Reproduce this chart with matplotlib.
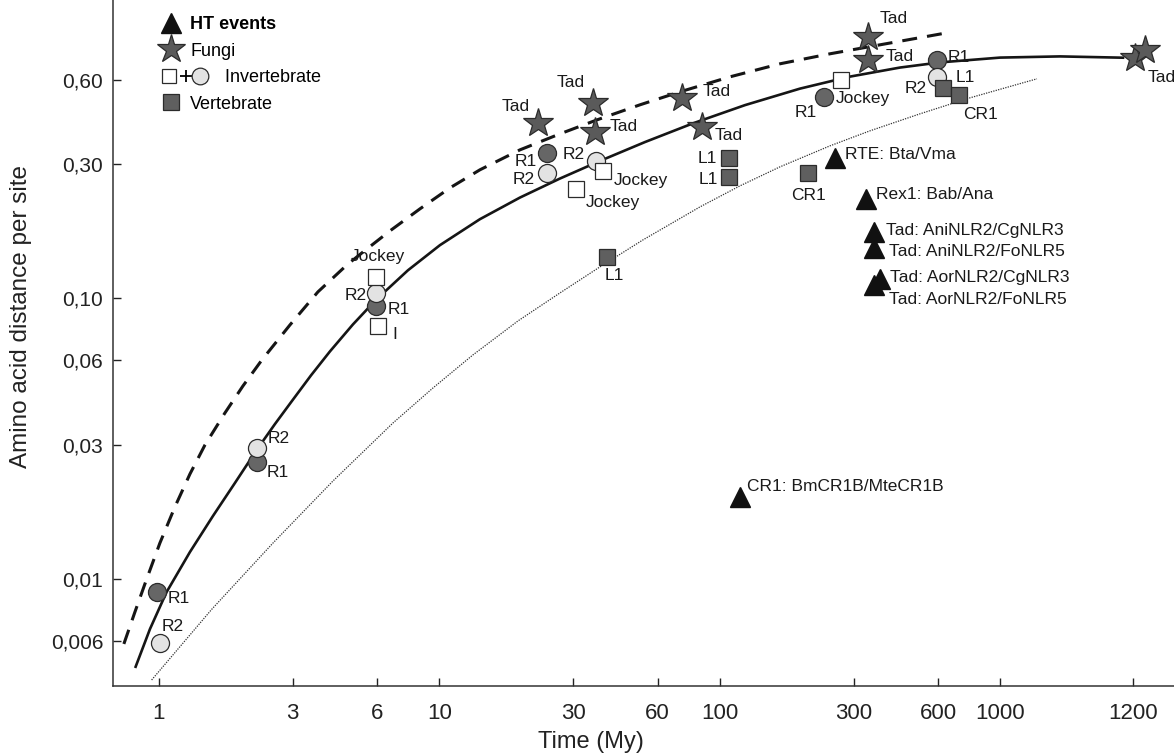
import matplotlib
matplotlib.use("Agg")
import matplotlib.pyplot as plt
from matplotlib.lines import Line2D
from matplotlib.legend_handler import HandlerBase
from matplotlib.ticker import NullLocator

plt.rcParams['font.family'] = ['Liberation Sans', 'DejaVu Sans']

# --- curves ---
solid_x = [0.826, 0.929, 1.065, 1.290, 1.558, 1.866, 2.230, 2.592, 2.980, 3.483, 4.070, 4.916,
           5.937, 7.720, 10.04, 13.94, 19.36, 26.89, 37.35, 54.02, 80.12, 122.8, 192.8, 290.7,
           438.2, 608.5, 995.9, 1630, 2734]
solid_y = [0.00486, 0.00662, 0.00897, 0.01246, 0.01674, 0.02195, 0.02877, 0.03561, 0.04302,
           0.05305, 0.06460, 0.08063, 0.0986, 0.1257, 0.1545, 0.1912, 0.2283, 0.2669, 0.3084,
           0.3600, 0.4198, 0.4875, 0.5581, 0.6160, 0.6635, 0.6922, 0.7200, 0.7271, 0.7194]

dash_x = [0.750, 0.821, 0.899, 1.008, 1.140, 1.290, 1.459, 1.719, 1.993, 2.329, 2.932, 3.688,
          4.679, 5.292, 6.661, 8.520, 10.90, 13.94, 19.36, 26.89, 36.44, 51.85, 72.02, 108.6,
          163.7, 246.7, 371.9, 644.8]
dash_y = [0.00586, 0.00761, 0.00982, 0.01341, 0.01803, 0.02363, 0.02998, 0.03899, 0.04866,
          0.06025, 0.0803, 0.1053, 0.1314, 0.1450, 0.1737, 0.2081, 0.2472, 0.2867, 0.3377,
          0.3851, 0.4319, 0.4887, 0.5437, 0.6149, 0.6843, 0.7428, 0.7996, 0.8824]

dot_x = [0.942, 1.545, 2.550, 4.172, 6.828, 9.482, 13.16, 19.05, 26.89, 37.35, 53.14, 84.87,
         117.8, 163.7, 246.7, 342.6, 516.5, 778.6, 1349]
dot_y = [0.00436, 0.00780, 0.01341, 0.02231, 0.03591, 0.04787, 0.06277, 0.08297, 0.1044, 0.1293,
         0.1613, 0.2115, 0.2513, 0.2938, 0.3490, 0.3948, 0.4539, 0.5176, 0.6049]

# --- HT events ---
ht_x = [257, 331.6, 354, 354, 372, 354, 117.8]
ht_y = [0.316, 0.226, 0.172, 0.151, 0.117, 0.1115, 0.0196]
ht_labels = ["RTE: Bta/Vma", "Rex1: Bab/Ana", "Tad: AniNLR2/CgNLR3", "Tad: AniNLR2/FoNLR5",
             "Tad: AorNLR2/CgNLR3", "Tad: AorNLR2/FoNLR5", "CR1: BmCR1B/MteCR1B"]

# --- Fungi (the last two sit on the "1200" tick of the drawn axis) ---
star_x = [22.4, 35.3, 35.8, 73.2, 86.3, 337, 337, 3017, 3275]
star_y = [0.4216, 0.497, 0.392, 0.518, 0.408, 0.854, 0.707, 0.719, 0.767]
star_labels = ["Tad"] * 8 + [""]

# --- Invertebrate ---
r1_x = [0.981, 2.23, 5.94, 24.1, 235.4, 592.3]
r1_y = [0.00899, 0.0261, 0.0939, 0.329, 0.519, 0.707]
r1_labels = ["R1"] * 6

r2_x = [1.008, 2.23, 5.94, 24.1, 36.1, 592.3]
r2_y = [0.00592, 0.0292, 0.1047, 0.280, 0.309, 0.613]
r2_labels = ["R2"] * 6

open_sq_x = [5.94, 6.04, 30.6, 38.4, 269.3]
open_sq_y = [0.119, 0.0796, 0.2446, 0.283, 0.597]
open_sq_labels = ["Jockey", "I", "Jockey", "Jockey", "Jockey"]

# --- Vertebrate ---
vert_x = [39.5, 108, 108, 206.5, 625.6, 712.9]
vert_y = [0.1406, 0.315, 0.270, 0.279, 0.560, 0.530]
vert_labels = ["L1", "L1", "L1", "CR1", "L1", "CR1"]

# axis ticks
x_ticks = [1, 3, 6, 10, 30, 60, 100, 300, 600, 1000, 2970]
x_tick_labels = ["1", "3", "6", "10", "30", "60", "100", "300", "600", "1000", "1200"]
y_ticks = [0.006, 0.01, 0.03, 0.06, 0.10, 0.30, 0.60]
y_tick_labels = ["0,006", "0,01", "0,03", "0,06", "0,10", "0,30", "0,60"]

# label offsets in pixels (dx, dy, ha)
ht_offsets = [(10, 3, 'left'), (10, 4, 'left'), (12, 2, 'left'), (15, -4, 'left'),
              (10, 2, 'left'), (15, -15, 'left'), (7, 10, 'left')]
star_offsets = [(-8, 16, 'right'), (-8, 20, 'right'), (15, 5, 'left'), (21, 6, 'left'),
                (13, -9, 'left'), (12, 18, 'left'), (18, 3, 'left'), (13, -20, 'left'), (0, 0, 'left')]
r1_offsets = [(11, -7, 'left'), (10, -11, 'left'), (12, -4, 'left'), (-10, -8, 'right'),
              (-7, -15, 'right'), (11, 2, 'left')]
r2_offsets = [(2, 16, 'left'), (11, 10, 'left'), (-9, -3, 'right'), (-12, -7, 'right'),
              (-11, 6, 'right'), (-10, -11, 'right')]
open_sq_offsets = [(2, 20, 'center'), (14, -9, 'left'), (10, -13, 'left'), (10, -9, 'left'),
                   (-5, -18, 'left')]
vert_offsets = [(8, -19, 'center'), (-12, 0, 'right'), (-11, -2, 'right'), (0, -22, 'center'),
                (12, 11, 'left'), (4, -20, 'left')]

EDGE = '#2b2b2b'
DARK = '#666666'
LIGHT = '#e3e3e3'
STAR = '#5a5a5a'


def label_points(ax, xs, ys, labels, offsets):
    for x, y, lab, (dx, dy, ha) in zip(xs, ys, labels, offsets):
        if lab:
            ax.annotate(lab, (x, y), xytext=(dx, dy), textcoords='offset pixels',
                        ha=ha, va='center', fontsize=12.5, color='#1a1a1a', zorder=5)


class InvertebrateHandler(HandlerBase):
    # open square + light circle, as in the original key
    def create_artists(self, legend, orig_handle, xdescent, ydescent, width, height, fontsize, trans):
        y = height / 2 - ydescent
        x0 = width / 2 - xdescent
        sq = Line2D([x0 - 1], [y], marker='s', ms=10.5, mfc='white', mec=EDGE, mew=0.9, ls='none',
                    transform=trans)
        plus = Line2D([x0 + 10.8], [y], marker='+', ms=8, mec='k', mew=1.3, ls='none', transform=trans)
        circ = Line2D([x0 + 21.5], [y], marker='o', ms=12, mfc=LIGHT, mec=EDGE, mew=0.9, ls='none',
                      transform=trans)
        return [sq, plus, circ]


fig = plt.figure(figsize=(11.74, 7.56), dpi=100)
ax = fig.add_axes([113 / 1174, 70 / 756, 1061 / 1174, 686 / 756])
ax.set_xscale('log')
ax.set_yscale('log')

ax.plot(solid_x, solid_y, color='#151515', lw=1.9, zorder=2, solid_joinstyle='round')
ax.plot(dash_x, dash_y, color='#151515', lw=2.2, dashes=(4.9, 3.3), zorder=2)
ax.plot(dot_x, dot_y, color='#333333', lw=0.9, ls=(0, (1, 1)), zorder=2)

ax.plot(ht_x, ht_y, ls='none', marker='^', ms=15, mfc='#111111', mec='#111111', zorder=4)
ax.plot(star_x, star_y, ls='none', marker='*', ms=22, mfc=STAR, mec=EDGE, mew=0.9, zorder=4)
ax.plot(r1_x, r1_y, ls='none', marker='o', ms=13, mfc=DARK, mec=EDGE, mew=0.9, zorder=4)
ax.plot(r2_x, r2_y, ls='none', marker='o', ms=13, mfc=LIGHT, mec=EDGE, mew=0.9, zorder=4)
ax.plot(open_sq_x, open_sq_y, ls='none', marker='s', ms=11.5, mfc='white', mec=EDGE, mew=0.9, zorder=4)
ax.plot(vert_x, vert_y, ls='none', marker='s', ms=11.5, mfc='#5f5f5f', mec=EDGE, mew=0.9, zorder=4)

label_points(ax, ht_x, ht_y, ht_labels, ht_offsets)
label_points(ax, star_x, star_y, star_labels, star_offsets)
label_points(ax, r1_x, r1_y, r1_labels, r1_offsets)
label_points(ax, r2_x, r2_y, r2_labels, r2_offsets)
label_points(ax, open_sq_x, open_sq_y, open_sq_labels, open_sq_offsets)
label_points(ax, vert_x, vert_y, vert_labels, vert_offsets)

ax.set_xlim(0.686, 4155)
ax.set_ylim(0.00415, 1.155)

ax.set_xticks(x_ticks, x_tick_labels)
ax.set_yticks(y_ticks, y_tick_labels)
ax.xaxis.set_minor_locator(NullLocator())
ax.yaxis.set_minor_locator(NullLocator())
ax.tick_params(axis='x', direction='in', length=6, width=1, pad=12, labelsize=16, colors='#222222')
ax.tick_params(axis='y', direction='in', length=6, width=1, pad=7, labelsize=15, colors='#222222')

for side in ['top', 'right']:
    ax.spines[side].set_visible(False)
for side in ['left', 'bottom']:
    ax.spines[side].set_linewidth(1.1)
    ax.spines[side].set_color('#333333')

ax.set_xlabel("Time (My)", fontsize=17, color='#222222')
ax.xaxis.set_label_coords(0.45, -0.066)
ax.set_ylabel("Amino acid distance per site", fontsize=17.5, color='#222222')
ax.yaxis.set_label_coords(-0.076, 0.539)

# legend
h_ht = Line2D([], [], ls='none', marker='^', ms=15, mfc='#111111', mec='#111111')
h_star = Line2D([], [], ls='none', marker='*', ms=21, mfc=STAR, mec=EDGE, mew=0.9)
h_inv = Line2D([], [])
h_vert = Line2D([], [], ls='none', marker='s', ms=11, mfc='#5f5f5f', mec=EDGE, mew=0.9)
leg = ax.legend([h_ht, h_star, h_inv, h_vert],
                ["HT events", "Fungi", "       Invertebrate", "Vertebrate"],
                handler_map={h_inv: InvertebrateHandler()},
                loc='upper left', bbox_to_anchor=(0.044, 0.9767), frameon=False, fontsize=13,
                handlelength=1.2, handletextpad=0.5, labelspacing=0.53, borderaxespad=0, borderpad=0)
leg.get_texts()[0].set_fontweight('bold')

fig.savefig("out.png", dpi=100)
